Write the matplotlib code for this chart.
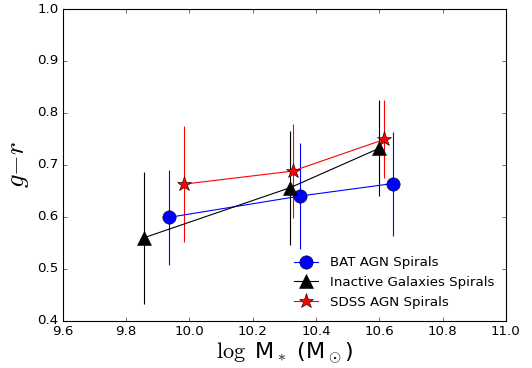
import matplotlib
matplotlib.use('Agg')
import matplotlib.pyplot as plt

plt.style.use('classic')

# BAT AGN spirals
bat_mass = [9.936, 10.350, 10.642]
bat_gr = [0.599, 0.640, 0.664]
bat_err = [0.092, 0.102, 0.100]

# inactive galaxies spirals
ina_mass = [9.858, 10.318, 10.600]
ina_gr = [0.560, 0.656, 0.732]
ina_err = [0.127, 0.110, 0.092]

# SDSS AGN spirals
sdss_mass = [9.984, 10.326, 10.616]
sdss_gr = [0.663, 0.688, 0.749]
sdss_err = [0.112, 0.090, 0.075]

fig = plt.figure(figsize=(6.65, 4.6), dpi=80, facecolor='white')
ax = fig.add_axes([0.118, 0.1285, 0.833, 0.847])

ax.errorbar(bat_mass, bat_gr, yerr=bat_err, fmt='none', ecolor='b', capsize=0)
ax.errorbar(ina_mass, ina_gr, yerr=ina_err, fmt='none', ecolor='k', capsize=0)
ax.errorbar(sdss_mass, sdss_gr, yerr=sdss_err, fmt='none', ecolor='r', capsize=0)

ax.plot(bat_mass, bat_gr, 'o-', color='b', mfc='b', mec='k', ms=12, label='BAT AGN Spirals')
ax.plot(ina_mass, ina_gr, '^-', color='k', mfc='k', mec='k', ms=12, label='Inactive Galaxies Spirals')
ax.plot(sdss_mass, sdss_gr, '*-', color='r', mfc='r', mec='k', ms=14, label='SDSS AGN Spirals')

ax.set_xlim(9.6, 11.0)
ax.set_ylim(0.4, 1.0)
ax.set_xlabel(r'$\log$ M$_*$ (M$_\odot$)', fontsize=20, labelpad=2)
ax.set_ylabel(r'$g{-}r$', fontsize=24)

ax.legend(loc='lower right', numpoints=1, frameon=False, fontsize=12,
          handlelength=1.8, handletextpad=0.9)

fig.savefig('out.png', dpi=80, facecolor='white')
